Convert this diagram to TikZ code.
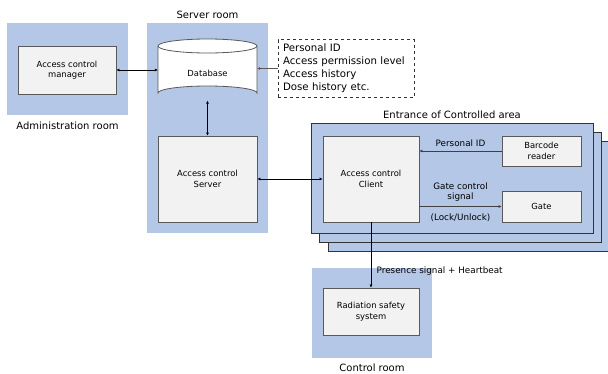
\documentclass[tikz,border=0pt]{standalone}
\usepackage{fontspec}
\setmainfont{DejaVu Sans}
\usetikzlibrary{arrows.meta}
\definecolor{roomblue}{HTML}{B4C7E7}
\definecolor{boxgray}{HTML}{F2F2F2}
\definecolor{edgegray}{HTML}{595959}

\begin{document}
\begin{tikzpicture}[x=1pt,y=-1pt,
  room/.style={fill=roomblue, inner sep=0pt},
  unit/.style={draw=edgegray, fill=boxgray, line width=0.8pt, align=center, font=\fontsize{8.4}{10.5}\selectfont, inner sep=0pt},
  stack/.style={draw=black!80, fill=roomblue, line width=0.7pt, inner sep=0pt, minimum width=282, minimum height=110},
  title/.style={font=\fontsize{10}{12}\selectfont},
  lbl/.style={font=\fontsize{8.8}{10.5}\selectfont, align=center},
  link/.style={line width=0.8pt, {Latex[length=3pt,width=3pt]}-{Latex[length=3pt,width=3pt]}},
  feed/.style={line width=0.8pt, -{Latex[length=3pt,width=3pt]}}]
  \useasboundingbox (0,0) rectangle (608,373);

  % rooms
  \node[room, minimum width=121, minimum height=92] (admin) at (67.5,69) {};
  \node[room, minimum width=121, minimum height=210] (srv) at (207.5,128) {};
  \node[room, minimum width=120, minimum height=90] (ctrl) at (372,313) {};
  \node[stack] (ent3) at (469,196) {};
  \node[stack] (ent2) at (460.5,187.5) {};
  \node[stack] (ent) at (452,178) {};

  \node[title, below] at (admin.south) [yshift=-3pt] {Administration room};
  \node[title, above] at (srv.north) [yshift=1pt] {Server room};
  \node[title, above] at (ent.north) [yshift=0pt] {Entrance of Controlled area};
  \node[title, below] at (ctrl.south) [yshift=-2pt] {Control room};

  % units
  \node[unit, minimum width=98, minimum height=48] (mgr) at (67,70) {Access control\\manager};
  \node[unit, minimum width=99, minimum height=86] (server) at (207.5,179) {Access control\\Server};
  \node[unit, minimum width=96, minimum height=86] (client) at (371,179) {Access control\\Client};
  \node[unit, minimum width=79, minimum height=30] (reader) at (541.5,151) {Barcode\\reader};
  \node[unit, minimum width=79, minimum height=31] (gate) at (541.5,206.5) {Gate};
  \node[unit, minimum width=96, minimum height=47] (rad) at (371,311.5) {Radiation safety\\system};

  % database
  \draw[draw=edgegray, fill=white, line width=0.8pt] (158,46) -- (158,93) arc[start angle=180, end angle=360, x radius=49.5, y radius=7] -- (257,46);
  \draw[draw=edgegray, fill=white, line width=0.8pt] (207.5,46) ellipse[x radius=49.5, y radius=7];
  \node[inner sep=0pt, minimum width=99, minimum height=61, font=\fontsize{8.4}{10.5}\selectfont] (db) at (207.5,70) {};
  \node[font=\fontsize{8.4}{10.5}\selectfont] at (207.5,73) {Database};

  % data held
  \node[draw=black!80, dashed, line width=0.6pt, align=left, inner sep=0pt, minimum width=136, minimum height=58, text width=126,
        font=\fontsize{10.2}{13}\selectfont] (info) at (346,68.5) {Personal ID\\Access permission level\\Access history\\Dose history etc.};

  % connectors
  \draw[link] (mgr.east) -- (mgr.east -| db.west);
  \draw[feed, draw=edgegray] (info.west) -- (info.west -| db.east);
  \draw[link] (db.south) -- (server.north);
  \draw[link] (server.east) -- (client.west);
  \draw[feed, draw=black!75] (reader.west) -- (reader.west -| client.east) node[lbl, midway, above, yshift=1pt] {Personal ID};
  \draw[feed, draw=black!75] (gate.west -| client.east) -- (gate.west)
    node[lbl, midway, above, yshift=1pt] {Gate control\\signal}
    node[lbl, midway, below, yshift=-4pt] {(Lock/Unlock)};
  \draw[feed] (client.south) -- (rad.north) node[lbl, pos=0.75, right, xshift=2pt] {Presence signal + Heartbeat};
\end{tikzpicture}
\end{document}
